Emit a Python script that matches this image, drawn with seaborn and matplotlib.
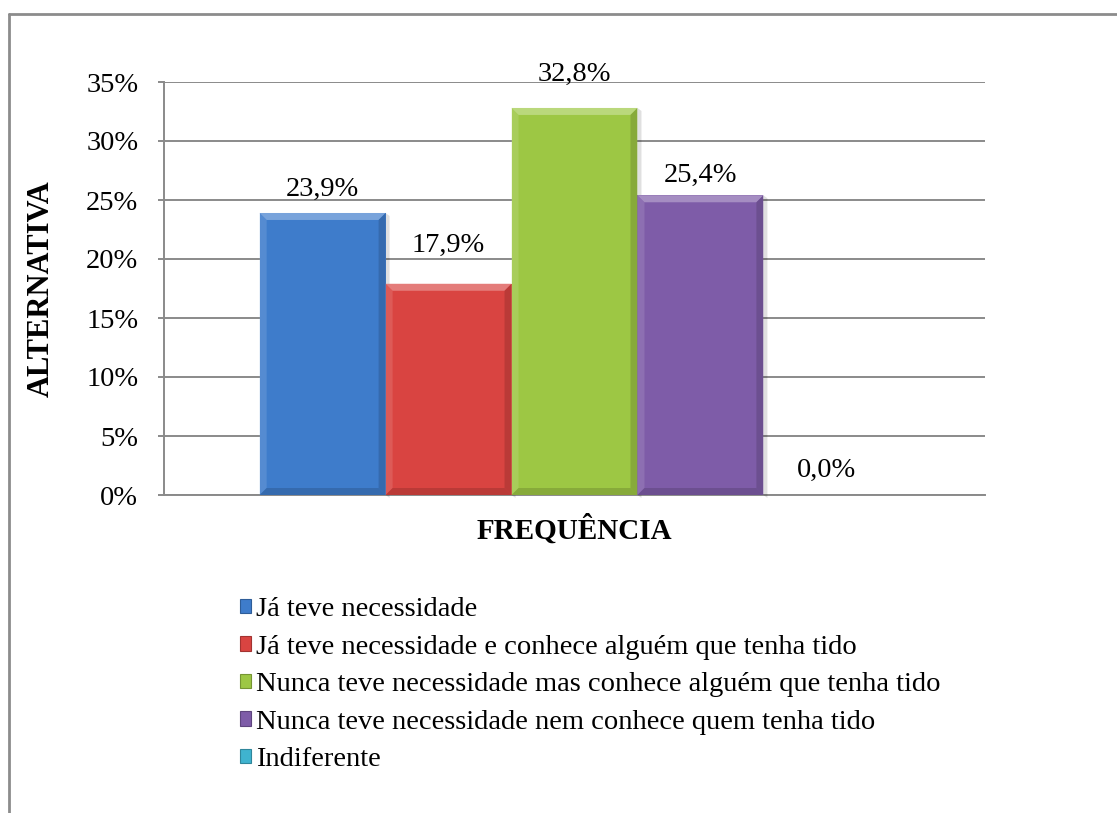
import matplotlib
matplotlib.use("Agg")
import matplotlib.pyplot as plt
import matplotlib.colors as mcolors
from matplotlib.patches import Polygon, Patch
from matplotlib.lines import Line2D
from matplotlib.ticker import PercentFormatter
import seaborn as sns
import pandas as pd

# Survey answers and their shares
categories = [
    "Já teve necessidade",
    "Já teve necessidade e conhece alguém que tenha tido",
    "Nunca teve necessidade mas conhece alguém que tenha tido",
    "Nunca teve necessidade nem conhece quem tenha tido",
    "Indiferente",
]
shares = [0.239, 0.179, 0.328, 0.254, 0.000]
group_label = "FREQUÊNCIA"
y_ticks = [0, 0.05, 0.10, 0.15, 0.20, 0.25, 0.30, 0.35]
colors = ["#3E7CCB", "#D94441", "#9DC744", "#7E5CA8", "#3FB3CF"]
# distance (px) from each bar top to the centre of its value label
label_gaps = [24, 38, 34, 20, 25]

df = pd.DataFrame({"grupo": [group_label] * len(categories),
                   "alternativa": categories,
                   "valor": shares})

sns.set_theme(style="white")
plt.rcParams["font.family"] = ["Liberation Serif", "DejaVu Serif"]
plt.rcParams["font.size"] = 20.5
for key in ("text.color", "axes.labelcolor", "xtick.color", "ytick.color"):
    plt.rcParams[key] = "black"

W, H = 1117, 813
fig = plt.figure(figsize=(W / 100, H / 100), dpi=100)
ax = fig.add_axes([164 / W, 1 - 495 / H, (985 - 164) / W, (495 - 82) / H])

sns.barplot(data=df, x="grupo", y="valor", hue="alternativa",
            hue_order=categories, palette=colors, width=0.767, gap=0,
            dodge=True, legend=False, ax=ax, saturation=1,
            edgecolor="none", linewidth=0, zorder=3)

ax.set_ylim(0, 0.35)
ax.set_xlim(-0.5, 0.5)
ax.set_yticks(y_ticks)
ax.yaxis.set_major_formatter(PercentFormatter(1.0, decimals=0))
ax.grid(axis="y", color="#8a8a8a", linewidth=1.4, zorder=0)
ax.set_axisbelow(True)
for side in ("top", "right"):
    ax.spines[side].set_visible(False)
for side in ("left", "bottom"):
    ax.spines[side].set_color("#8a8a8a")
    ax.spines[side].set_linewidth(1.4)
ax.tick_params(axis="y", which="major", direction="out", length=4.5,
               width=1.4, color="#8a8a8a", left=True, labelsize=20.5,
               pad=14, labelcolor="black")
ax.tick_params(axis="x", bottom=False, labelbottom=False)
ax.set_xlabel(group_label, fontsize=21, fontweight="bold", labelpad=14)
ax.set_ylabel("ALTERNATIVA", fontsize=22, fontweight="bold", labelpad=22)

# Bevel shading on each bar
px_x = 1.0 / (985 - 164)
px_y = 0.35 / (495 - 82)
bev = 7
for patch, col in zip(ax.patches, colors):
    x0, y0 = patch.get_x(), patch.get_y()
    w, h = patch.get_width(), patch.get_height()
    if h <= 0:
        continue
    bx, by = bev * px_x, bev * px_y
    base = mcolors.to_rgb(col)
    light = tuple(min(1, c + (1 - c) * 0.3) for c in base)
    dark = tuple(c * 0.8 for c in base)
    # soft shadow to the right
    ax.add_patch(Polygon([(x0 + w, y0), (x0 + w + 4 * px_x, y0 - 3 * px_y),
                          (x0 + w + 4 * px_x, y0 + h - 3 * px_y), (x0 + w, y0 + h)],
                         closed=True, facecolor="#000000", alpha=0.12,
                         edgecolor="none", zorder=2.9, clip_on=False))
    ax.add_patch(Polygon([(x0, y0 + h), (x0 + w, y0 + h), (x0 + w - bx, y0 + h - by),
                          (x0 + bx, y0 + h - by)], closed=True, facecolor=light,
                         edgecolor="none", zorder=4))
    ax.add_patch(Polygon([(x0, y0), (x0 + bx, y0 + by), (x0 + bx, y0 + h - by),
                          (x0, y0 + h)], closed=True, facecolor=light, alpha=0.4,
                         edgecolor="none", zorder=4))
    ax.add_patch(Polygon([(x0 + w, y0), (x0 + w - bx, y0 + by), (x0 + w - bx, y0 + h - by),
                          (x0 + w, y0 + h)], closed=True, facecolor=dark, alpha=0.7,
                         edgecolor="none", zorder=4))
    ax.add_patch(Polygon([(x0, y0), (x0 + w, y0), (x0 + w - bx, y0 + by),
                          (x0 + bx, y0 + by)], closed=True, facecolor=dark, alpha=0.7,
                         edgecolor="none", zorder=4))

# Value labels above bars
for patch, v, gap in zip(ax.patches, shares, label_gaps):
    cx = patch.get_x() + patch.get_width() / 2
    txt = f"{v * 100:.1f}".replace(".", ",") + "%"
    ax.annotate(txt, (cx, v), xytext=(0, gap * 0.72), textcoords="offset points",
                ha="center", va="center", fontsize=20.5, color="black", zorder=5,
                annotation_clip=False)

# Legend below the plot
handles = [Patch(facecolor=c, edgecolor=mcolors.to_hex(tuple(x * 0.75 for x in mcolors.to_rgb(c))),
                 linewidth=0.8) for c in colors]
fig.legend(handles, categories, loc="upper left",
           bbox_to_anchor=(240 / W, 1 - 597 / H), frameon=False, fontsize=20.5,
           handlelength=0.4, handleheight=0.4, handletextpad=0.15,
           labelspacing=0.44, borderpad=0, borderaxespad=0)

# Chart-area frame (left and top edges)
fig.add_artist(Line2D([9 / W, 9 / W], [0, 1 - 14 / H], transform=fig.transFigure,
                      color="#8c8c8c", linewidth=2))
fig.add_artist(Line2D([9 / W, 1], [1 - 14 / H, 1 - 14 / H], transform=fig.transFigure,
                      color="#8c8c8c", linewidth=2))

fig.savefig("out.png", dpi=100, facecolor="white")
